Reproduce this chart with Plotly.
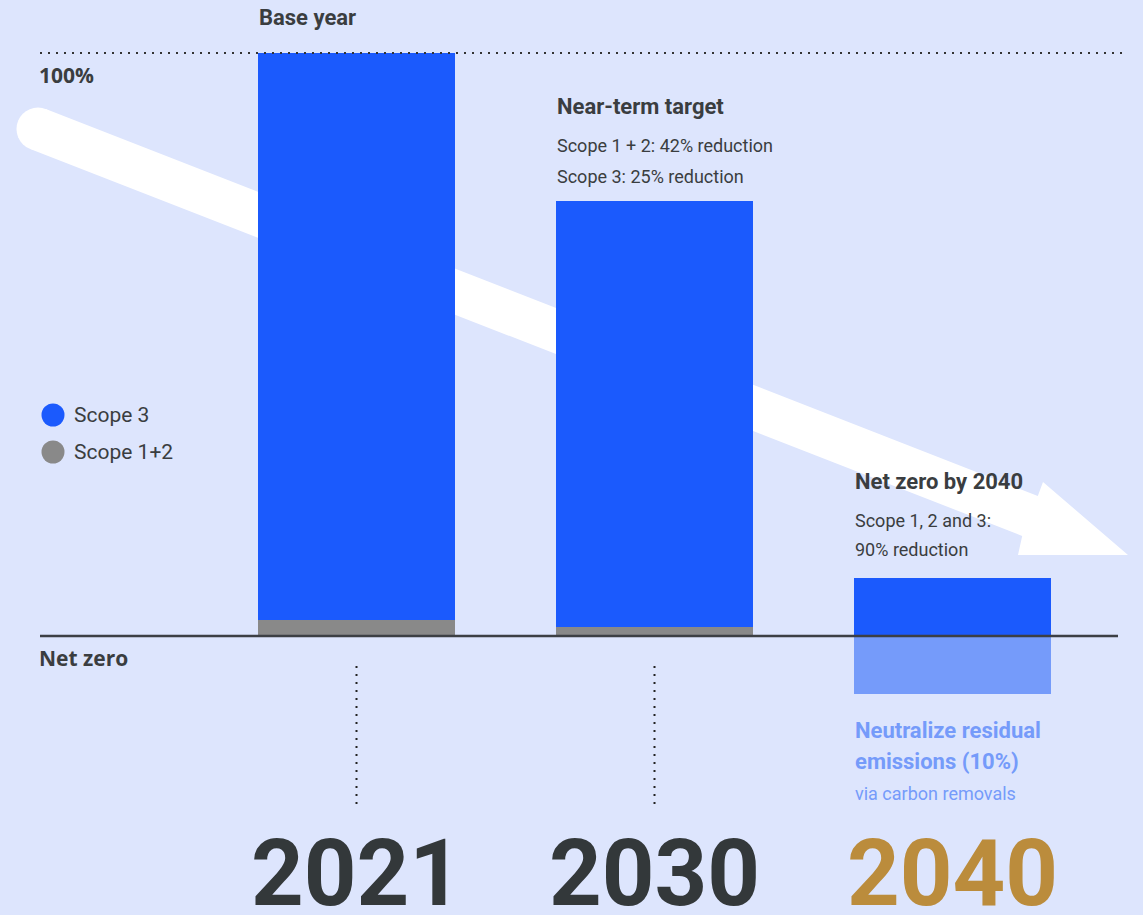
import plotly.graph_objects as go

# ---------------- data ----------------
years = ["2021", "2030", "2040"]
scope12 = [2.7, 1.6, 0.0]        # % of base-year emissions
scope3 = [97.3, 73.0, 10.0]
removals = [0.0, 0.0, -10.0]     # neutralized via carbon removals
year_colors = ["#33383a", "#33383a", "#bb8c3c"]

# ---------------- style ----------------
W, H = 1143, 915
BG = "#dde5fd"
BLUE = "#1b5afd"
GRAY = "#898989"
LIGHT = "#759bfa"
DARK = "#3a3d40"
COND = "Roboto, Liberation Sans, sans-serif"
WIDE = "Open Sans, Lato, sans-serif"

def fx(p):
    return p / W

def fy(p):
    return 1 - p / H

BARW = 0.661
fig = go.Figure()
fig.add_trace(go.Bar(x=years, y=scope12, marker=dict(color=GRAY, line=dict(width=0)),
                     width=BARW, name="Scope 1+2", showlegend=False, hoverinfo="skip"))
fig.add_trace(go.Bar(x=years, y=scope3, marker=dict(color=BLUE, line=dict(width=0)),
                     width=BARW, name="Scope 3", showlegend=False, hoverinfo="skip"))
fig.add_trace(go.Bar(x=years, y=removals, marker=dict(color=LIGHT, line=dict(width=0)),
                     width=BARW, name="Removals", showlegend=False, hoverinfo="skip"))

shapes = []
# ---- white arrow (decoration, pixel geometry) ----
pts = [(45.8, 109.0), (1037.8, 495.9), (1043, 482), (1128, 555), (1018, 555),
       (1022.2, 535.9), (30.2, 149.0)]
path = "M " + " L ".join(f"{fx(x):.5f},{fy(y):.5f}" for x, y in pts) + " Z"
shapes.append(dict(type="path", path=path, xref="paper", yref="paper",
                   fillcolor="white", line=dict(width=0), layer="below"))
cx, cy, r = 38, 129, 21.5
shapes.append(dict(type="circle", xref="paper", yref="paper",
                   x0=fx(cx - r), x1=fx(cx + r), y0=fy(cy + r), y1=fy(cy - r),
                   fillcolor="white", line=dict(width=0), layer="below"))

# ---- 100% dotted line & net-zero baseline ----
shapes.append(dict(type="line", xref="paper", yref="y", x0=fx(40), x1=fx(1122), y0=100, y1=100,
                   line=dict(color="#333", width=2, dash="2px,6px"), layer="above"))
shapes.append(dict(type="line", xref="paper", yref="y", x0=fx(40), x1=fx(1118), y0=0, y1=0,
                   line=dict(color="#3c3f44", width=2.5), layer="above"))
# ---- vertical dotted connectors ----
for i in (0, 1):
    shapes.append(dict(type="line", xref="x", yref="paper", x0=i, x1=i,
                       y0=fy(666), y1=fy(809),
                       line=dict(color="#222", width=2, dash="2px,6px"), layer="above"))
# ---- legend dots ----
for yy, col in ((415, BLUE), (452, GRAY)):
    shapes.append(dict(type="circle", xref="paper", yref="paper",
                       x0=fx(41.5), x1=fx(64.5), y0=fy(yy + 11.5), y1=fy(yy - 11.5),
                       fillcolor=col, line=dict(width=0)))

ann = []

def T(text, x, y, size, color=DARK, family=COND, bold=False, xref="paper", xanchor="left"):
    if bold:
        text = f"<b>{text}</b>"
    ann.append(dict(text=text, x=x, y=fy(y), xref=xref, yref="paper", xanchor=xanchor,
                    yanchor="middle", showarrow=False,
                    font=dict(size=size, color=color, family=family)))

left = lambda i: i - BARW / 2 - 0.004

T("Base year", left(0), 18, 22, bold=True, xref="x")
T("100%", fx(37), 75, 21, family=WIDE, bold=True)
T("Near-term target", left(1), 107, 22, bold=True, xref="x")
T("Scope 1 + 2: 42% reduction", left(1), 146, 18, xref="x")
T("Scope 3: 25% reduction", left(1), 176, 18, xref="x")
T("Scope 3", fx(72), 415, 21)
T("Scope 1+2", fx(72), 452, 21)
T("Net zero by 2040", left(2), 481, 22, bold=True, xref="x")
T("Scope 1, 2 and 3:", left(2), 520, 18, xref="x")
T("90% reduction", left(2), 549, 18, xref="x")
T("Net zero", fx(37), 658, 21, family=WIDE, bold=True)
T("Neutralize residual", left(2), 730, 22, color=LIGHT, bold=True, xref="x")
T("emissions (10%)", left(2), 761, 22, color=LIGHT, bold=True, xref="x")
T("via carbon removals", left(2), 793, 18, color=LIGHT, xref="x")
for i, (yr, col) in enumerate(zip(years, year_colors)):
    T(yr, i, 873, 92, color=col, bold=True, xref="x", xanchor="center")

x0 = -356.5 / 298
x1 = (W - 356.5) / 298
ppu = (636 - 53) / 100
fig.update_layout(
    width=W, height=H, margin=dict(l=0, r=0, t=0, b=0),
    paper_bgcolor=BG, plot_bgcolor=BG, barmode="relative", bargap=0,
    xaxis=dict(type="category", range=[x0, x1], visible=False, fixedrange=True),
    yaxis=dict(range=[-(H - 636) / ppu, 100 + 53 / ppu], visible=False, fixedrange=True),
    shapes=shapes, annotations=ann, showlegend=False,
)
fig.write_html(
    "out.html",
    config={"displayModeBar": False},
    post_script="document.body.style.margin='0px';"
                "document.body.style.backgroundColor='" + BG + "';"
                "document.body.style.overflow='hidden';",
)
